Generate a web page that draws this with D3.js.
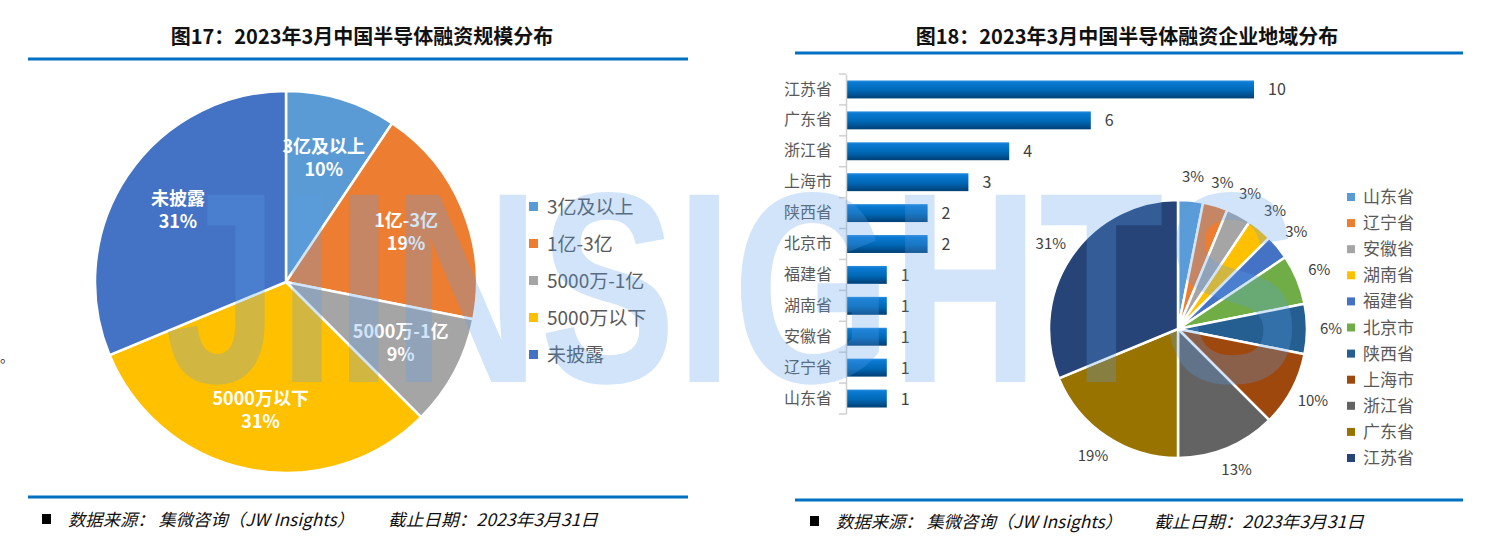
<!DOCTYPE html>
<html><head><meta charset="utf-8">
<script src="https://cdn.jsdelivr.net/npm/d3@7"></script>
<style>
body{margin:0;background:#fff;}
svg{display:block;font-family:"Noto Sans CJK SC","Noto Sans",sans-serif;}
</style>
</head><body>
<svg id="c" width="1488" height="556"></svg>
<script>
// ---------- data ----------
const leftTitle = "图17：2023年3月中国半导体融资规模分布";
const rightTitle = "图18：2023年3月中国半导体融资企业地域分布";
const scaleCategories = ["3亿及以上","1亿-3亿","5000万-1亿","5000万以下","未披露"];
const scaleCounts = [3,6,3,10,10];
const scaleLabels = ["10%","19%","9%","31%","31%"];
const scaleColors = ["#5B9BD5","#ED7D31","#A5A5A5","#FFC000","#4472C4"];

const barCategories = ["江苏省","广东省","浙江省","上海市","陕西省","北京市","福建省","湖南省","安徽省","辽宁省","山东省"];
const barValues = [10,6,4,3,2,2,1,1,1,1,1];

const regionCategories = ["山东省","辽宁省","安徽省","湖南省","福建省","北京市","陕西省","上海市","浙江省","广东省","江苏省"];
const regionCounts = [1,1,1,1,1,2,2,3,4,6,10];
const regionLabels = ["3%","3%","3%","3%","3%","6%","6%","10%","13%","19%","31%"];
const regionColors = ["#5B9BD5","#ED7D31","#A5A5A5","#FFC000","#4472C4","#70AD47","#255E91","#9E480E","#636363","#997300","#264478"];

const sourceText = "数据来源： 集微咨询（JW Insights）";
const dateText = "截止日期：2023年3月31日";
const watermarkText = "JIINSIGHTS";

// ---------- drawing ----------
const svg = d3.select("#c");
svg.append("rect").attr("width",1488).attr("height",556).attr("fill","#fff");

const defs = svg.append("defs");
const grad = defs.append("linearGradient").attr("id","barGrad").attr("x1",0).attr("y1",0).attr("x2",0).attr("y2",1);
grad.append("stop").attr("offset","0%").attr("stop-color","#2a8ee0");
grad.append("stop").attr("offset","12%").attr("stop-color","#0a7ad2");
grad.append("stop").attr("offset","55%").attr("stop-color","#0068b6");
grad.append("stop").attr("offset","100%").attr("stop-color","#003f74");

// titles & rules
svg.append("text").attr("x",362).attr("y",44).attr("text-anchor","middle")
  .attr("font-size",20).attr("font-weight","bold").attr("fill","#111").text(leftTitle);
svg.append("text").attr("x",1127).attr("y",44).attr("text-anchor","middle")
  .attr("font-size",20).attr("font-weight","bold").attr("fill","#111").text(rightTitle);
[[28,688,59],[795,1463,53],[28,688,497],[795,1463,500]].forEach(([a,b,y])=>{
  svg.append("line").attr("x1",a).attr("x2",b).attr("y1",y).attr("y2",y)
    .attr("stroke","#0070C0").attr("stroke-width",3);
});

// footers
function footer(xs, xt, xd, y){
  svg.append("rect").attr("x",xs).attr("y",y-12).attr("width",9).attr("height",10).attr("fill","#000");
  svg.append("text").attr("x",xt).attr("y",y).attr("font-size",17).attr("font-style","italic")
    .attr("fill","#111").attr("textLength",286).attr("lengthAdjust","spacingAndGlyphs").text(sourceText);
  svg.append("text").attr("x",xd).attr("y",y).attr("font-size",17).attr("font-style","italic")
    .attr("fill","#111").attr("textLength",210).attr("lengthAdjust","spacingAndGlyphs").text(dateText);
}
footer(42,68,388,526);
footer(810,836,1154,528);

// small mark at left edge
svg.append("text").attr("x",0).attr("y",362).attr("font-size",14).attr("fill","#333").text("。");

// ---------- left pie ----------
{
  const cx=286, cy=282, r=191;
  const g = svg.append("g").attr("transform",`translate(${cx},${cy})`);
  const pie = d3.pie().sort(null).value(d=>d)(scaleCounts);
  const arc = d3.arc().innerRadius(0).outerRadius(r);
  g.selectAll("path").data(pie).join("path").attr("d",arc)
    .attr("fill",(d,i)=>scaleColors[i]).attr("stroke","#fff").attr("stroke-width",2.5);
  const la = d3.arc().innerRadius(130).outerRadius(130);
  pie.forEach((d,i)=>{
    const [x,y] = la.centroid(d);
    const t = g.append("text").attr("text-anchor","middle").attr("fill","#fff")
      .attr("font-size",18).attr("font-weight","bold");
    t.append("tspan").attr("x",x).attr("y",y-5).text(scaleCategories[i]);
    t.append("tspan").attr("x",x).attr("y",y+18).text(scaleLabels[i]);
  });
  // legend
  const lg = svg.append("g");
  const ly = d3.scalePoint().domain(scaleCategories).range([207,355]);
  scaleCategories.forEach((c,i)=>{
    lg.append("rect").attr("x",529).attr("y",ly(c)-5).attr("width",9).attr("height",9).attr("fill",scaleColors[i]);
    lg.append("text").attr("x",547).attr("y",ly(c)+7).attr("font-size",19).attr("fill","#595959").text(c);
  });
}

// ---------- bar chart ----------
{
  const y = d3.scaleBand().domain(barCategories).range([74,414]).paddingInner(0.42).paddingOuter(0.21);
  const x = d3.scaleLinear().domain([0,10]).range([846,1254]);
  const g = svg.append("g");
  g.selectAll("rect.bar").data(barValues).join("rect").attr("class","bar")
    .attr("x",x(0)).attr("y",(d,i)=>y(barCategories[i]))
    .attr("width",d=>x(d)-x(0)).attr("height",y.bandwidth())
    .attr("fill","url(#barGrad)");
  g.selectAll("text.val").data(barValues).join("text").attr("class","val")
    .attr("x",d=>x(d)+14).attr("y",(d,i)=>y(barCategories[i])+y.bandwidth()/2+6)
    .attr("font-size",16).attr("fill","#404040").text(d=>d);
  const axis = d3.axisLeft(y).tickSize(0).tickPadding(14);
  const ag = g.append("g").attr("transform",`translate(${x(0)},0)`).call(axis);
  ag.select(".domain").attr("stroke","#d0d0d0").attr("stroke-width",1.5);
  ag.selectAll(".tick text").attr("font-size",16).attr("fill","#595959")
    .attr("font-family",'"Noto Sans CJK SC",sans-serif');
  const bounds = barCategories.map(c=>y(c)-y.step()*y.paddingInner()/2).concat([y.range()[1]]);
  g.selectAll("line.tk").data(bounds).join("line").attr("class","tk")
    .attr("x1",x(0)-7).attr("x2",x(0)).attr("y1",d=>d).attr("y2",d=>d)
    .attr("stroke","#d0d0d0").attr("stroke-width",1.5);
}

// ---------- right pie ----------
{
  const cx=1178, cy=329, r=129;
  const g = svg.append("g").attr("transform",`translate(${cx},${cy})`);
  const pie = d3.pie().sort(null).value(d=>d)(regionCounts);
  const arc = d3.arc().innerRadius(0).outerRadius(r);
  g.selectAll("path").data(pie).join("path").attr("d",arc)
    .attr("fill",(d,i)=>regionColors[i]).attr("stroke","#fff").attr("stroke-width",2.5);
  const la = d3.arc().innerRadius(153).outerRadius(153);
  pie.forEach((d,i)=>{
    const [x,y] = la.centroid(d);
    g.append("text").attr("x",x).attr("y",y+5).attr("text-anchor","middle")
      .attr("font-size",15).attr("fill","#404040").text(regionLabels[i]);
  });
  const ly = d3.scalePoint().domain(regionCategories).range([197,458]);
  regionCategories.forEach((c,i)=>{
    svg.append("rect").attr("x",1347).attr("y",ly(c)-4).attr("width",8).attr("height",8).attr("fill",regionColors[i]);
    svg.append("text").attr("x",1363).attr("y",ly(c)+6).attr("font-size",17).attr("fill","#595959").text(c);
  });
}

// ---------- watermark ----------
svg.append("text").attr("x",165).attr("y",382)
  .attr("font-family",'"Liberation Sans",sans-serif').attr("font-weight","bold").attr("font-size",272)
  .attr("textLength",1135).attr("lengthAdjust","spacingAndGlyphs")
  .attr("fill","#5a9fea").attr("fill-opacity",0.28).text(watermarkText);
</script>
</body></html>
